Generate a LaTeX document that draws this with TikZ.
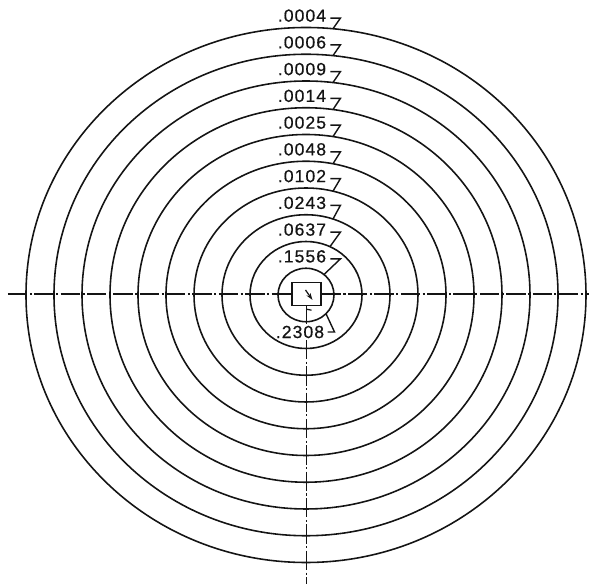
\documentclass[tikz,border=0pt]{standalone}
\usepackage{fontspec}
\usetikzlibrary{arrows.meta,calc}
\newfontfamily\lettering[LetterSpace=6,FakeBold=0.6]{Liberation Sans}
\definecolor{ink}{RGB}{20,20,20}

\begin{document}
\begin{tikzpicture}[x=0.02cm,y=0.02cm,line width=0.9pt,draw=ink,
  lab/.style={font=\lettering\fontsize{10}{11}\selectfont,text=ink,inner sep=0.5pt},
  lead/.style={line width=0.8pt},
  axis/.style={line width=0.8pt,dash pattern=on 11pt off 1.4pt on 1.2pt off 1.4pt}]
\useasboundingbox (-306,-289) rectangle (283,295);
% rings
\foreach \k in {1,...,10} \draw (0,0) ellipse [x radius=28*\k, y radius=26.75*\k];
% centre mark
\node[draw,line width=0.8pt,minimum width=0.58cm,minimum height=0.46cm,inner sep=0pt] (sq) at (0.5,1) {};
\draw[-{Stealth[length=4pt,width=2.6pt]},line width=0.7pt] ($(sq.center)+(-1,4)$) -- ($(sq.center)+(6,-6)$);
\draw[axis] (-298,1) -- (sq.west);
\draw[axis] (sq.east) -- (283,1);
% values above the centre
\foreach \k/\v/\dx in {1/.1556/18,2/.0637/24,3/.0243/27,4/.0102/27,5/.0048/27,
    6/.0025/27,7/.0014/27,8/.0009/27,9/.0006/27,10/.0004/27}{
  \node[lab] (l\k) at (-4,{26.75*(\k+0.5)-1.5}) {\v};
  \coordinate (r\k) at (\dx,{26.75*\k*sqrt(1-(\dx/(28*\k))^2)});
  \draw[lead] ([xshift=1.5pt,yshift=2pt]l\k.base east) -- ++(10,0) -- (r\k);
}
% value below the centre
\node[lab] (l0) at (-6,-37) {.2308};
\coordinate (r0) at (20,{-26.75*sqrt(1-(20/28)^2)});
\draw[lead] ([xshift=1pt]l0.east) -- ++(7,0) -- (r0);
\draw[axis] (sq.south) -- (sq.south |- l0.north);
\draw[axis] (sq.south |- l0.south) -- (sq.south |- 0,-289);
\draw[line width=0.7pt] ($(sq.south)+(0,-3)$) -- ++(5,-1);
\end{tikzpicture}
\end{document}
